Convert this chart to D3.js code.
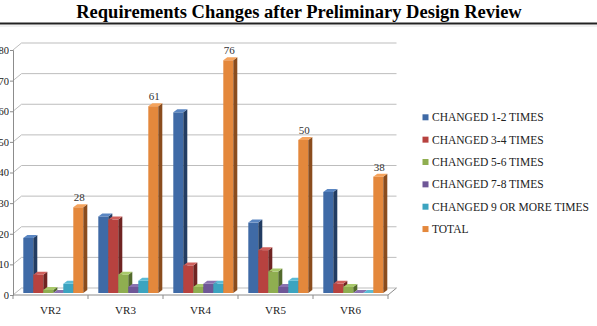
<!DOCTYPE html>
<html>
<head>
<meta charset="utf-8">
<script src="https://cdn.jsdelivr.net/npm/d3@7"></script>
<style>
  body { margin: 0; background: #fff; }
</style>
</head>
<body>
<div id="chart"></div>
<script>
var width = 597, height = 326;
var serif = "'Liberation Serif', 'Times New Roman', Times, serif";

// data
var categories = ["VR2", "VR3", "VR4", "VR5", "VR6"];
var seriesNames = ["CHANGED 1-2 TIMES", "CHANGED 3-4 TIMES", "CHANGED 5-6 TIMES",
                   "CHANGED 7-8 TIMES", "CHANGED 9 OR MORE TIMES", "TOTAL"];
var changed12 = [18, 25, 59, 23, 33];
var changed34 = [6, 24, 9, 14, 3];
var changed56 = [1, 6, 2, 7, 2];
var changed78 = [0, 2, 3, 2, 0];
var changed9plus = [3, 4, 3, 4, 0];
var total = [28, 61, 76, 50, 38];
var yTicks = [0, 10, 20, 30, 40, 50, 60, 70, 80];

var seriesValues = [changed12, changed34, changed56, changed78, changed9plus, total];

// front / top / side colours for the 3d bars
var fronts = ["#3f6aa6", "#b7423f", "#8fae50", "#6f5797", "#3ca4c0", "#e4883c"];
var tops   = ["#5a86c2", "#d0605c", "#a8c86a", "#8a72b0", "#5cbcd6", "#f5a35c"];
var sides  = ["#223c62", "#6f2422", "#536a2c", "#3f2f58", "#22627a", "#8a4c1d"];

var svg = d3.select("#chart").append("svg")
  .attr("width", width)
  .attr("height", height);

// title
svg.append("text")
  .attr("x", 299)
  .attr("y", 17.5)
  .attr("text-anchor", "middle")
  .style("font-family", serif)
  .style("font-size", "18.5px")
  .style("font-weight", "bold")
  .attr("fill", "#000")
  .text("Requirements Changes after Preliminary Design Review");

svg.append("line")
  .attr("x1", 0).attr("x2", width)
  .attr("y1", 23.5).attr("y2", 23.5)
  .attr("stroke", "#222").attr("stroke-width", 2);
svg.append("line")
  .attr("x1", 0).attr("x2", width)
  .attr("y1", 26).attr("y2", 26)
  .attr("stroke", "#e2e2e2").attr("stroke-width", 1);

// scales
var x = d3.scaleBand().domain(categories).range([13, 388]);
var xs = d3.scaleBand().domain(seriesNames).range([10.3, 70.3]);
var y = d3.scaleLinear().domain([0, 80]).range([295, 50]);

var wallDx = 8.5, wallDy = 7;   // back wall depth
var barDx = 4, barDy = 3;       // bar depth
var barLift = 2;                // bars sit a bit behind the front edge

// gridlines on back wall + diagonals
var grid = svg.append("g");
yTicks.forEach(function(t) {
  grid.append("path")
    .attr("d", "M13," + y(t) + "L" + (13 + wallDx) + "," + (y(t) - wallDy) + "L396.5," + (y(t) - wallDy))
    .attr("fill", "none")
    .attr("stroke", "#bdbdbd")
    .attr("stroke-width", 1);
});

// y axis
var yAxis = svg.append("g")
  .attr("transform", "translate(13,0)")
  .call(d3.axisLeft(y).tickValues(yTicks).tickSize(3).tickPadding(1));
yAxis.select(".domain").attr("stroke", "#8c8c8c");
yAxis.selectAll(".tick line").attr("stroke", "#8c8c8c");
yAxis.selectAll(".tick text")
  .style("font-family", serif)
  .style("font-size", "10.5px")
  .attr("fill", "#222");

// floor
svg.append("path")
  .attr("d", "M13," + y(0) + "L388," + y(0) + "L396.5," + (y(0) - wallDy))
  .attr("fill", "none")
  .attr("stroke", "#8c8c8c");

// x axis ticks + labels
var xAxis = svg.append("g")
  .attr("transform", "translate(0," + y(0) + ")")
  .call(d3.axisBottom(x).tickSize(0).tickPadding(11));
xAxis.select(".domain").remove();
xAxis.selectAll(".tick text")
  .style("font-family", serif)
  .style("font-size", "11px")
  .attr("fill", "#222");
categories.concat(["end"]).forEach(function(c, i) {
  var xx = i < categories.length ? x(c) : 388;
  svg.append("line")
    .attr("x1", xx).attr("x2", xx)
    .attr("y1", y(0)).attr("y2", y(0) + 4)
    .attr("stroke", "#8c8c8c");
});

// bars
var bars = svg.append("g");
categories.forEach(function(c, ci) {
  seriesNames.forEach(function(s, si) {
    var v = seriesValues[si][ci];
    var x0 = x(c) + xs(s);
    var w = xs.bandwidth();
    var bottom = y(0) - barLift;
    var top = y(v) - barLift;
    var g = bars.append("g");
    if (top < bottom) {
      g.append("rect")
        .attr("x", x0).attr("y", top)
        .attr("width", w).attr("height", bottom - top)
        .attr("fill", fronts[si]);
    }
    g.append("path")
      .attr("d", "M" + (x0 + w) + "," + top + "L" + (x0 + w + barDx) + "," + (top - barDy) +
                 "L" + (x0 + w + barDx) + "," + (bottom - barDy) + "L" + (x0 + w) + "," + bottom + "Z")
      .attr("fill", sides[si]);
    g.append("path")
      .attr("d", "M" + x0 + "," + top + "L" + (x0 + barDx) + "," + (top - barDy) +
                 "L" + (x0 + w + barDx) + "," + (top - barDy) + "L" + (x0 + w) + "," + top + "Z")
      .attr("fill", tops[si]);
  });

  // data label on the total bar
  svg.append("text")
    .attr("x", x(c) + xs("TOTAL") + xs.bandwidth() / 2 + 1)
    .attr("y", y(total[ci]) - barLift - 6)
    .attr("text-anchor", "middle")
    .style("font-family", serif)
    .style("font-size", "11px")
    .attr("fill", "#333")
    .text(total[ci]);
});

// legend
var legend = svg.append("g");
seriesNames.forEach(function(s, i) {
  var ly = 117.3 + i * 22.35;
  legend.append("rect")
    .attr("x", 422.5).attr("y", ly - 3)
    .attr("width", 6).attr("height", 6)
    .attr("fill", fronts[i]);
  legend.append("text")
    .attr("x", 432)
    .attr("y", ly + 4)
    .style("font-family", serif)
    .style("font-size", "11.5px")
    .attr("fill", "#222")
    .text(s);
});
</script>
</body>
</html>
